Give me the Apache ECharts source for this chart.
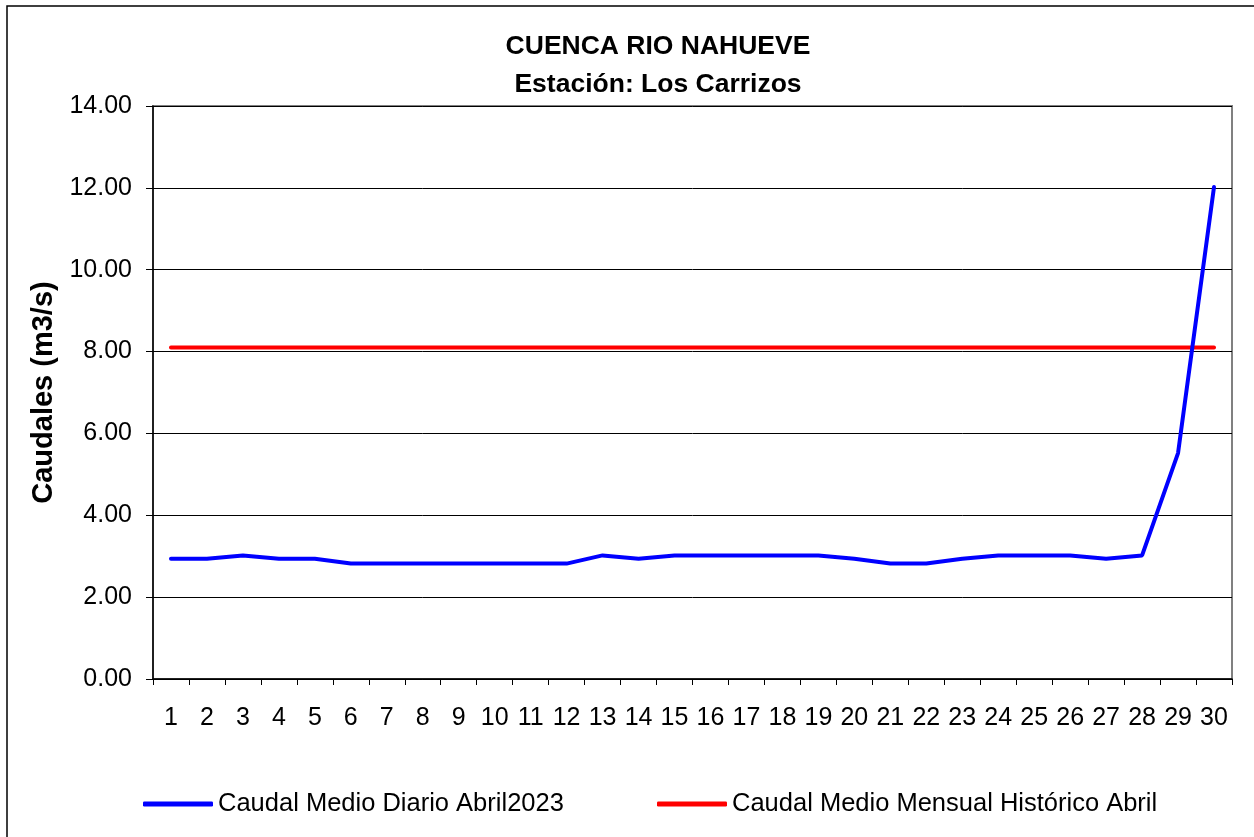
<!DOCTYPE html>
<html>
<head>
<meta charset="utf-8">
<script src="https://cdn.jsdelivr.net/npm/echarts@6/dist/echarts.min.js"></script>
<style>
  html, body { margin: 0; padding: 0; background: #fff; }
  #chart { width: 1254px; height: 837px; }
</style>
</head>
<body>
<div id="chart"></div>
<script>
// dias del mes de abril
const dias = ['1','2','3','4','5','6','7','8','9','10','11','12','13','14','15',
  '16','17','18','19','20','21','22','23','24','25','26','27','28','29','30']

// caudal medio diario abril 2023 (m3/s)
const caudalDiario = [2.94, 2.94, 3.02, 2.94, 2.94, 2.82, 2.82, 2.82, 2.82, 2.82,
  2.82, 2.82, 3.02, 2.94, 3.02, 3.02, 3.02, 3.02, 3.02, 2.94,
  2.82, 2.82, 2.94, 3.02, 3.02, 3.02, 2.94, 3.02, 5.52, 12.02]

// caudal medio mensual historico abril (m3/s)
const caudalHistorico = Array(30).fill(8.1)

const yMin = 0
const yMax = 14
const yStep = 2

const font = 'Liberation Sans, Arial, sans-serif'

const chart = echarts.init(document.getElementById('chart'))

const option = {
  backgroundColor: '#fff',
  animation: false,
  title: {
    text: 'CUENCA RIO NAHUEVE\nEstación: Los Carrizos',
    left: 653,
    textAlign: 'center',
    top: 23,
    textStyle: {
      fontFamily: font,
      fontSize: 26.5,
      fontWeight: 'bold',
      color: '#000',
      lineHeight: 38
    }
  },
  graphic: [
    {
      type: 'rect',
      shape: { x: 7, y: 6, width: 1400, height: 1000 },
      style: { fill: 'none', stroke: '#000', lineWidth: 1.5 },
      silent: true
    }
  ],
  legend: [
    {
      data: ['Caudal Medio Diario Abril2023'],
      left: 143,
      top: 791,
      padding: 0,
      icon: 'roundRect',
      itemWidth: 70,
      itemHeight: 5,
      textStyle: { fontFamily: font, fontSize: 25.5, color: '#000' }
    },
    {
      data: ['Caudal Medio Mensual Histórico Abril'],
      left: 657,
      top: 791,
      padding: 0,
      icon: 'roundRect',
      itemWidth: 70,
      itemHeight: 5,
      textStyle: { fontFamily: font, fontSize: 25.5, color: '#000' }
    }
  ],
  grid: {
    left: 153,
    right: 22,
    top: 106,
    bottom: 158,
    show: true,
    borderColor: '#808080',
    borderWidth: 2,
    backgroundColor: '#fff'
  },
  xAxis: {
    type: 'category',
    data: dias,
    boundaryGap: true,
    axisLine: { lineStyle: { color: '#000', width: 1.5 } },
    axisTick: { show: true, length: 6, lineStyle: { color: '#000' } },
    axisLabel: { fontFamily: font, fontSize: 25, color: '#000', margin: 27, interval: 0 },
    splitLine: { show: false }
  },
  yAxis: {
    type: 'value',
    min: yMin,
    max: yMax,
    interval: yStep,
    name: 'Caudales (m3/s)',
    nameLocation: 'middle',
    nameGap: 93,
    nameTextStyle: { fontFamily: font, fontSize: 29, fontWeight: 'bold', color: '#000' },
    axisLine: { show: true, lineStyle: { color: '#000', width: 1.5 } },
    axisTick: { show: true, length: 7, lineStyle: { color: '#000' } },
    axisLabel: {
      fontFamily: font,
      fontSize: 25,
      color: '#000',
      margin: 21,
      formatter: v => v.toFixed(2)
    },
    splitLine: { show: true, lineStyle: { color: '#000', width: 1 } }
  },
  series: [
    {
      name: 'Caudal Medio Diario Abril2023',
      type: 'line',
      data: caudalDiario,
      symbol: 'none',
      color: '#0000ff',
      lineStyle: { color: '#0000ff', width: 4, cap: 'round' },
      z: 3
    },
    {
      name: 'Caudal Medio Mensual Histórico Abril',
      type: 'line',
      data: caudalHistorico,
      symbol: 'none',
      color: '#ff0000',
      lineStyle: { color: '#ff0000', width: 4, cap: 'round' },
      z: 2
    }
  ]
}

chart.setOption(option)
</script>
</body>
</html>
